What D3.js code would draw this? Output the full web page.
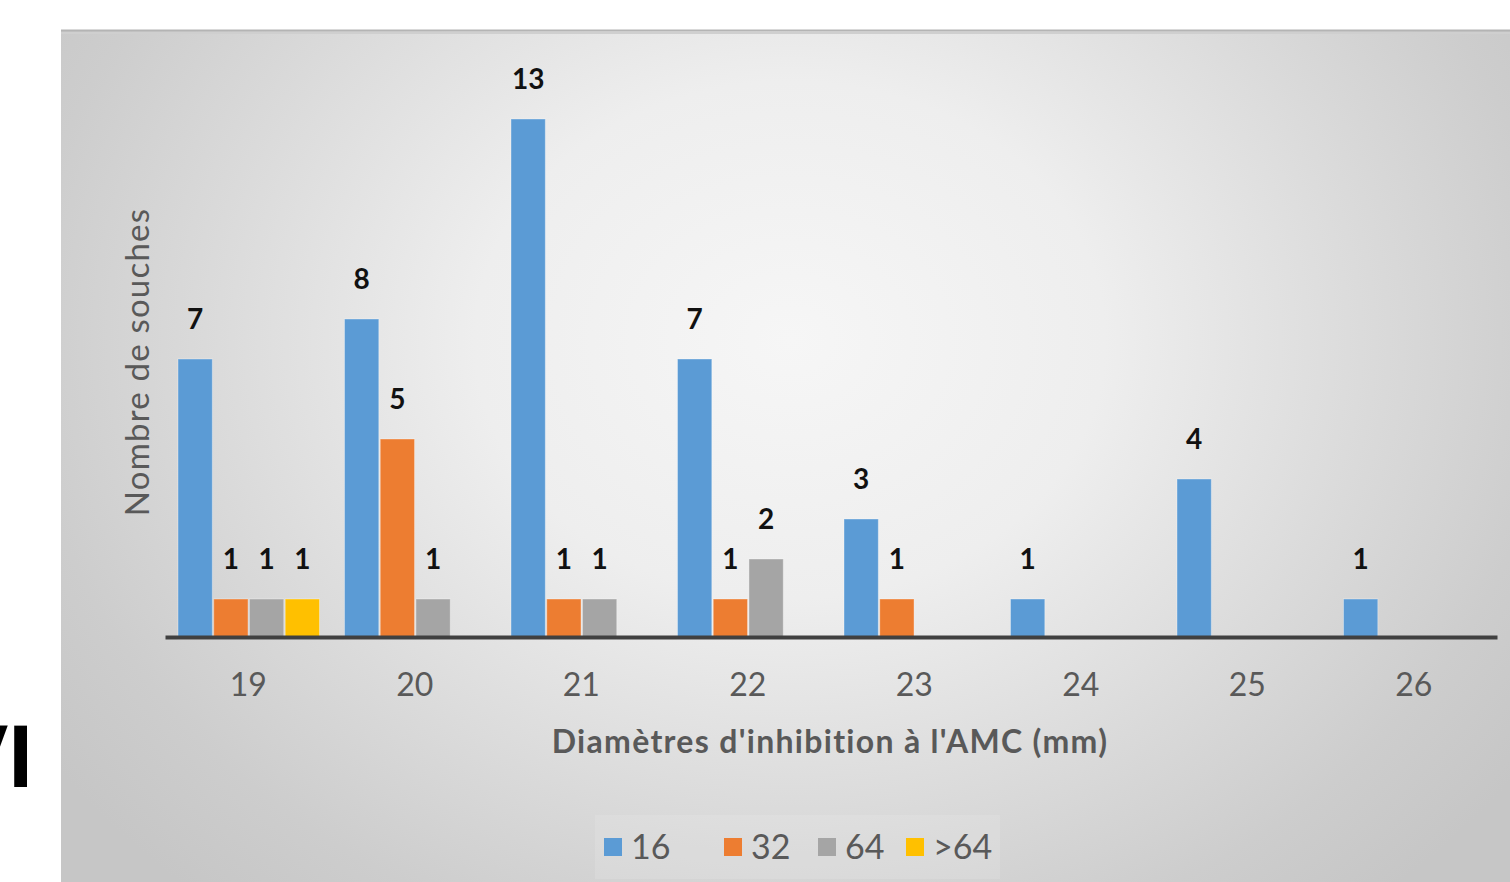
<!DOCTYPE html>
<html lang="fr">
<head>
    <meta charset="UTF-8">
    <style>
        body {margin: 0; background: #ffffff;}
        svg {display: block;}
    </style>
</head>
<body>
<div id="chart"></div>

<script src="https://d3js.org/d3.v7.min.js"></script>
<script>

// data
var diametres = ["19", "20", "21", "22", "23", "24", "25", "26"];
var series = ["16", "32", "64", ">64"];
var cmi16 = [7, 8, 13, 7, 3, 1, 4, 1];
var cmi32 = [1, 5, 1, 1, 1, 0, 0, 0];
var cmi64 = [1, 1, 1, 2, 0, 0, 0, 0];
var cmiSup64 = [1, 0, 0, 0, 0, 0, 0, 0];
var couleurs = ["#5b9bd5", "#ed7d31", "#a5a5a5", "#ffc000"];

var valeurs = [cmi16, cmi32, cmi64, cmiSup64];

var W = 1510, H = 882;

var svg = d3.select("#chart")
    .append("svg")
    .attr("width", W)
    .attr("height", H);

// background gradient of the chart panel
var defs = svg.append("defs");
var grad = defs.append("radialGradient")
    .attr("id", "fond")
    .attr("gradientUnits", "userSpaceOnUse")
    .attr("cx", 790).attr("cy", 340).attr("r", 900)
    .attr("gradientTransform", "translate(790,340) scale(1,0.82) translate(-790,-340)");
grad.append("stop").attr("offset", 0).attr("stop-color", "#f6f6f6");
grad.append("stop").attr("offset", 0.35).attr("stop-color", "#eeeeee");
grad.append("stop").attr("offset", 0.65).attr("stop-color", "#dadada");
grad.append("stop").attr("offset", 0.85).attr("stop-color", "#cdcdcd");
grad.append("stop").attr("offset", 1).attr("stop-color", "#c6c6c6");

// cropped letters on the left (partly outside the page, as in the source)
svg.append("text")
    .attr("x", -51)
    .attr("y", 787)
    .style("font-family", "Liberation Sans, Arial, sans-serif")
    .style("font-weight", "bold")
    .style("font-size", "89px")
    .attr("fill", "#000")
    .text("VI");

svg.append("rect")
    .attr("x", 61).attr("y", 30)
    .attr("width", W - 61).attr("height", H - 30)
    .attr("fill", "url(#fond)");

// top border
svg.append("line")
    .attr("x1", 61).attr("x2", W)
    .attr("y1", 30.5).attr("y2", 30.5)
    .attr("stroke", "#b4b4b4")
    .attr("stroke-width", 2);
svg.append("line")
    .attr("x1", 61).attr("x2", W)
    .attr("y1", 33).attr("y2", 33)
    .attr("stroke", "#cfcfcf")
    .attr("stroke-width", 2);

// scales
var x0 = d3.scaleBand()
    .domain(diametres)
    .range([165, 1497])
    .padding(0);

var x1 = d3.scaleBand()
    .domain(series)
    .range([13, x0.bandwidth() - 12])
    .paddingInner(0.04);

var y = d3.scaleLinear()
    .domain([0, 13])
    .range([639, 119]);

// bars
var g = svg.append("g");
diametres.forEach(function (d, i) {
    series.forEach(function (s, j) {
        var v = valeurs[j][i];
        if (v === 0) return;
        g.append("rect")
            .attr("x", x0(d) + x1(s))
            .attr("y", y(v))
            .attr("width", x1.bandwidth())
            .attr("height", y(0) - y(v))
            .attr("fill", couleurs[j])
            .attr("stroke", "#ffffff")
            .attr("stroke-opacity", 0.35)
            .attr("stroke-width", 1);
        g.append("text")
            .attr("x", x0(d) + x1(s) + x1.bandwidth() / 2)
            .attr("y", y(v) - 30)
            .attr("text-anchor", "middle")
            .style("font-family", "Lato, sans-serif")
            .style("font-weight", "bold")
            .style("font-size", "28px")
            .attr("fill", "#111111")
            .text(v);
    });
});

// x axis
var axe = svg.append("g")
    .attr("transform", "translate(0,637)")
    .call(d3.axisBottom(x0).tickSize(0).tickSizeOuter(0).tickPadding(36));
axe.select(".domain")
    .attr("stroke", "#404040")
    .attr("stroke-width", 4);
axe.selectAll("text")
    .style("font-family", "Lato, sans-serif")
    .style("font-size", "32px")
    .attr("fill", "#595959");

// axis titles
svg.append("text")
    .attr("x", 830)
    .attr("y", 753)
    .attr("text-anchor", "middle")
    .style("font-family", "Lato, sans-serif")
    .style("font-weight", "bold")
    .style("font-size", "32px")
    .style("letter-spacing", "1.3px")
    .attr("fill", "#595959")
    .text("Diamètres d'inhibition à l'AMC (mm)");

svg.append("text")
    .attr("transform", "translate(149,362) rotate(-90)")
    .attr("text-anchor", "middle")
    .style("font-family", "Lato, sans-serif")
    .style("font-size", "33px")
    .style("letter-spacing", "1.2px")
    .attr("fill", "#595959")
    .text("Nombre de souches");

// legend
svg.append("rect")
    .attr("x", 595).attr("y", 815)
    .attr("width", 405).attr("height", 64)
    .attr("fill", "#ffffff")
    .attr("fill-opacity", 0.12);

var legPos = [604, 724, 818, 906];
series.forEach(function (s, j) {
    svg.append("rect")
        .attr("x", legPos[j])
        .attr("y", 838)
        .attr("width", 18)
        .attr("height", 18)
        .attr("fill", couleurs[j]);
    svg.append("text")
        .attr("x", legPos[j] + 27)
        .attr("y", 859)
        .style("font-family", "Lato, sans-serif")
        .style("font-size", "34px")
        .attr("fill", "#595959")
        .text(s);
});

</script>
</body>
</html>
